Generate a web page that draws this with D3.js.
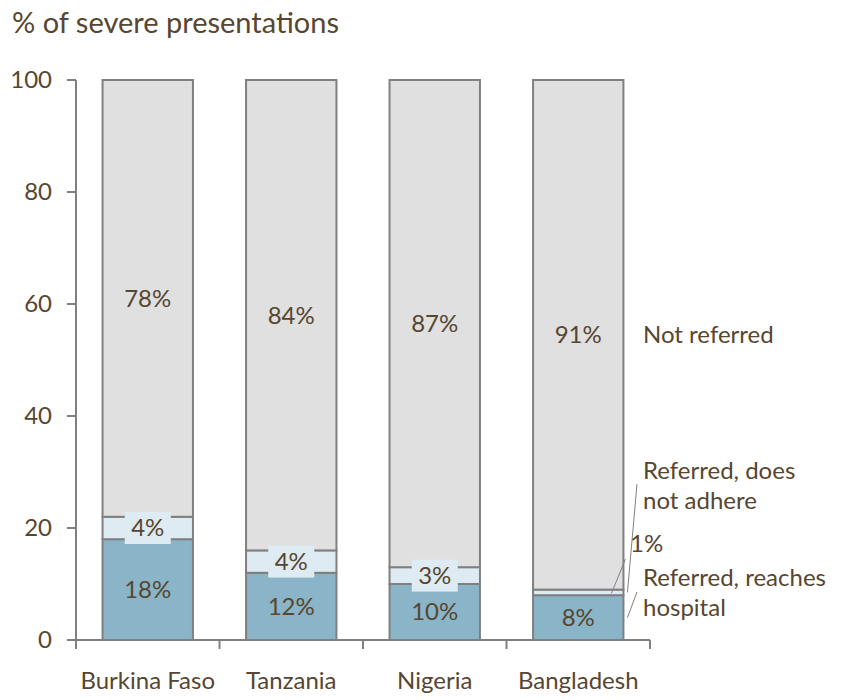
<!DOCTYPE html>
<html>
<head>
<meta charset="utf-8">
<script src="https://cdn.jsdelivr.net/npm/d3@7"></script>
<style>
  html, body { margin: 0; padding: 0; background: #fff; }
  svg text { font-family: Lato, "Open Sans", sans-serif; fill: #574630; }
</style>
</head>
<body>
<svg id="chart" width="846" height="700"></svg>
<script>
// Outcome of severe presentations by country (percent)
const categories = ["Burkina Faso", "Tanzania", "Nigeria", "Bangladesh"];
const reachesHospital = [18, 12, 10, 8];
const doesNotAdhere = [4, 4, 3, 1];
const notReferred = [78, 84, 87, 91];
const yTicks = [0, 20, 40, 60, 80, 100];
const seriesNames = ["Referred, reaches hospital", "Referred, does not adhere", "Not referred"];

const colors = {
  reaches: "#8ab4c7",
  adhere: "#dfebf2",
  notRef: "#e0e0e0",
  stroke: "#808080"
};
const fontSize = "24px";

const svg = d3.select("#chart");
const plot = { left: 76, right: 650, top: 80, bottom: 640 };

const x = d3.scaleBand()
  .domain(categories)
  .range([plot.left, plot.right])
  .paddingInner(0.37)
  .paddingOuter(0.185);

const y = d3.scaleLinear().domain([0, 100]).range([plot.bottom, plot.top]);

// Title
svg.append("text")
  .attr("x", 12).attr("y", 33)
  .style("font-size", "29px")
  .text("% of severe presentations");

// Stacked data
const rows = categories.map((c, i) => ({
  country: c,
  reaches: reachesHospital[i],
  adhere: doesNotAdhere[i],
  notRef: notReferred[i]
}));
const keys = ["reaches", "adhere", "notRef"];
const stacked = d3.stack().keys(keys)(rows);

const layers = svg.append("g").selectAll("g")
  .data(stacked).join("g")
  .attr("fill", d => colors[d.key]);

layers.selectAll("rect")
  .data(d => d)
  .join("rect")
  .attr("x", d => x(d.data.country))
  .attr("width", x.bandwidth())
  .attr("y", d => y(d[1]))
  .attr("height", d => y(d[0]) - y(d[1]))
  .attr("stroke", colors.stroke)
  .attr("stroke-width", 2);

// Y axis
const yAxis = svg.append("g");
yAxis.append("line")
  .attr("x1", plot.left).attr("x2", plot.left)
  .attr("y1", y(100)).attr("y2", y(0))
  .attr("stroke", colors.stroke).attr("stroke-width", 2);
yAxis.selectAll("line.tick")
  .data(yTicks).join("line")
  .attr("class", "tick")
  .attr("x1", plot.left - 9).attr("x2", plot.left)
  .attr("y1", d => y(d)).attr("y2", d => y(d))
  .attr("stroke", colors.stroke).attr("stroke-width", 2);
yAxis.selectAll("text")
  .data(yTicks).join("text")
  .attr("x", 52).attr("y", d => y(d))
  .attr("dy", "0.35em")
  .attr("text-anchor", "end")
  .style("font-size", fontSize)
  .text(d => d);

// X axis
const xAxis = svg.append("g");
xAxis.append("line")
  .attr("x1", plot.left - 9).attr("x2", plot.right)
  .attr("y1", y(0)).attr("y2", y(0))
  .attr("stroke", colors.stroke).attr("stroke-width", 2);
const boundaries = [plot.left, ...categories.map(c => x(c) + x.bandwidth() + x.step() * x.paddingInner() / 2)];
boundaries[boundaries.length - 1] = plot.right;
xAxis.selectAll("line.tick")
  .data(boundaries).join("line")
  .attr("class", "tick")
  .attr("x1", d => d).attr("x2", d => d)
  .attr("y1", y(0)).attr("y2", y(0) + 9)
  .attr("stroke", colors.stroke).attr("stroke-width", 2);
xAxis.selectAll("text")
  .data(categories).join("text")
  .attr("x", d => x(d) + x.bandwidth() / 2)
  .attr("y", 689)
  .attr("text-anchor", "middle")
  .style("font-size", fontSize)
  .text(d => d);

// Segment value labels
const labelG = svg.append("g");
stacked.forEach(layer => {
  layer.forEach(seg => {
    const v = seg[1] - seg[0];
    const cx = x(seg.data.country) + x.bandwidth() / 2;
    const cy = y((seg[0] + seg[1]) / 2);
    if (layer.key === "adhere" && v < 2) return; // labelled outside the bar
    if (layer.key === "adhere") {
      labelG.append("rect")
        .attr("x", cx - 23).attr("y", cy - 16)
        .attr("width", 46).attr("height", 32)
        .attr("fill", colors.adhere);
    }
    labelG.append("text")
      .attr("x", cx).attr("y", cy)
      .attr("dy", "0.35em")
      .attr("text-anchor", "middle")
      .style("font-size", fontSize)
      .text(v + "%");
  });
});

// Series labels with leader lines beside the last bar
const last = rows[rows.length - 1];
const lastX = x(last.country) + x.bandwidth();
const lx = 643;
const leader = svg.append("g").attr("stroke", "#808080").attr("stroke-width", 1);
const adhereMid = y(last.reaches + last.adhere / 2);

svg.append("text")
  .attr("x", lx).attr("y", y(last.reaches + last.adhere + last.notRef / 2))
  .attr("dy", "0.35em")
  .style("font-size", fontSize)
  .text(seriesNames[2]);

const t1 = svg.append("text").attr("x", lx).attr("y", 479).style("font-size", fontSize);
t1.append("tspan").attr("x", lx).text("Referred, does");
t1.append("tspan").attr("x", lx).attr("dy", 30).text("not adhere");

svg.append("text")
  .attr("x", 630).attr("y", 552)
  .style("font-size", fontSize)
  .text(last.adhere + "%");

const t2 = svg.append("text").attr("x", lx).attr("y", 586).style("font-size", fontSize);
t2.append("tspan").attr("x", lx).text("Referred, reaches");
t2.append("tspan").attr("x", lx).attr("dy", 30).text("hospital");

leader.append("line").attr("x1", lastX - 12).attr("y1", adhereMid + 1).attr("x2", lastX + 2).attr("y2", 559);
leader.append("line").attr("x1", lastX + 4).attr("y1", adhereMid).attr("x2", 637).attr("y2", 484);
leader.append("line").attr("x1", lastX + 4).attr("y1", y(last.reaches / 2)).attr("x2", 637).attr("y2", 592);
</script>
</body>
</html>
